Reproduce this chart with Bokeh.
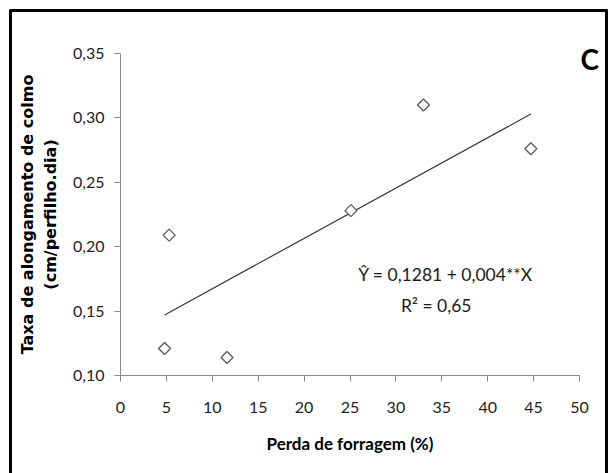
import math
from bokeh.plotting import figure
from bokeh.models import Range1d, FixedTicker, Label, LinearAxis, InlineStyleSheet
from bokeh.embed import file_html
from bokeh.resources import INLINE

# ---- data ----
forage_loss = [4.8, 5.3, 11.6, 25.1, 33.0, 44.7]
stem_rate = [0.121, 0.209, 0.114, 0.228, 0.310, 0.276]
fit_x = [4.8, 44.7]
fit_y = [0.147, 0.303]

x_ticks = [0, 5, 10, 15, 20, 25, 30, 35, 40, 45, 50]
x_tick_labels = ["0", "5", "10", "15", "20", "25", "30", "35", "40", "45", "50"]
y_ticks = [0.10, 0.15, 0.20, 0.25, 0.30, 0.35]
y_tick_labels = ["0,10", "0,15", "0,20", "0,25", "0,30", "0,35"]

eq_text = "Ŷ = 0,1281 + 0,004**X"
r2_text = "R² = 0,65"
panel_letter = "C"
x_title = "Perda de forragem (%)"
y_title = "Taxa de alongamento de colmo\n(cm/perfilho.dia)"

FONT = "Lato"

p = figure(width=611, height=473, output_backend="svg", toolbar_location=None,
           x_range=Range1d(0, 50), y_range=Range1d(0.10, 0.35),
           min_border_left=120, min_border_right=32, min_border_top=53, min_border_bottom=98)
p.outline_line_color = None
p.xgrid.grid_line_color = None
p.ygrid.grid_line_color = None
p.background_fill_color = "white"
p.border_fill_color = "white"

for ax in (p.xaxis[0], p.yaxis[0]):
    ax.axis_line_color = "#8a8a8a"
    ax.major_tick_line_color = "#8a8a8a"
    ax.major_tick_out = 6
    ax.major_tick_in = 0
    ax.minor_tick_line_color = None
    ax.major_label_text_font = FONT
    ax.major_label_text_font_size = "16px"
    ax.major_label_text_color = "#222222"

p.xaxis.ticker = FixedTicker(ticks=x_ticks)
p.xaxis.major_label_overrides = {t: l for t, l in zip(x_ticks, x_tick_labels)}
p.yaxis.ticker = FixedTicker(ticks=y_ticks)
p.yaxis.major_label_overrides = {t: l for t, l in zip(y_ticks, y_tick_labels)}
p.xaxis.major_label_standoff = 20
p.yaxis.major_label_standoff = 10

p.xaxis.axis_label = x_title
p.xaxis.axis_label_text_font = FONT
p.xaxis.axis_label_text_font_style = "bold"
p.xaxis.axis_label_text_font_size = "17px"
p.xaxis.axis_label_text_color = "black"
p.xaxis.axis_label_standoff = 17

p.yaxis.axis_label = y_title
p.yaxis.axis_label_text_font = "DejaVu Sans"
p.yaxis.axis_label_text_font_style = "bold"
p.yaxis.axis_label_text_font_size = "16px"
p.yaxis.axis_label_text_color = "black"
p.yaxis.axis_label_standoff = 10

# panel letter as a right-side axis label
right_ax = LinearAxis(ticker=FixedTicker(ticks=[0.3461]),
                      major_label_overrides={0.3461: panel_letter},
                      axis_line_color=None, major_tick_line_color=None,
                      minor_tick_line_color=None, major_tick_out=0, major_tick_in=0,
                      major_label_standoff=1, major_label_orientation="horizontal",
                      major_label_text_font=FONT, major_label_text_font_style="bold",
                      major_label_text_font_size="28px", major_label_text_color="black")
p.add_layout(right_ax, "right")

# regression line
p.line(fit_x, fit_y, line_color="#3a3a3a", line_width=1.2)

# points: hollow diamonds
p.scatter(forage_loss, stem_rate, marker="square", angle=math.pi / 4, size=8.5,
          fill_color="white", line_color="#5a5a5a", line_width=1.3)

# equation text
p.add_layout(Label(x=35.4, y=0.1784, text=eq_text, text_align="center", text_baseline="middle",
                   text_font=FONT, text_font_size="17.5px", text_color="#1a1a1a"))
p.add_layout(Label(x=34.4, y=0.1543, text=r2_text, text_align="center", text_baseline="middle",
                   text_font=FONT, text_font_size="17.5px", text_color="#1a1a1a"))

# outer border frame (open at the bottom, which lies below the window)
p.stylesheets = [InlineStyleSheet(css="""
:host { position: relative; }
:host::after {
  content: "";
  position: absolute;
  left: 9px; top: 9px; width: 599px; height: 464px;
  box-sizing: border-box;
  border-top: 3.5px solid black;
  border-left: 3.5px solid black;
  border-right: 3.5px solid black;
  border-bottom: none;
  border-top-left-radius: 2px;
  border-top-right-radius: 2px;
  pointer-events: none;
  z-index: 10;
}
""")]

open("out.html", "w").write(file_html(p, INLINE))
